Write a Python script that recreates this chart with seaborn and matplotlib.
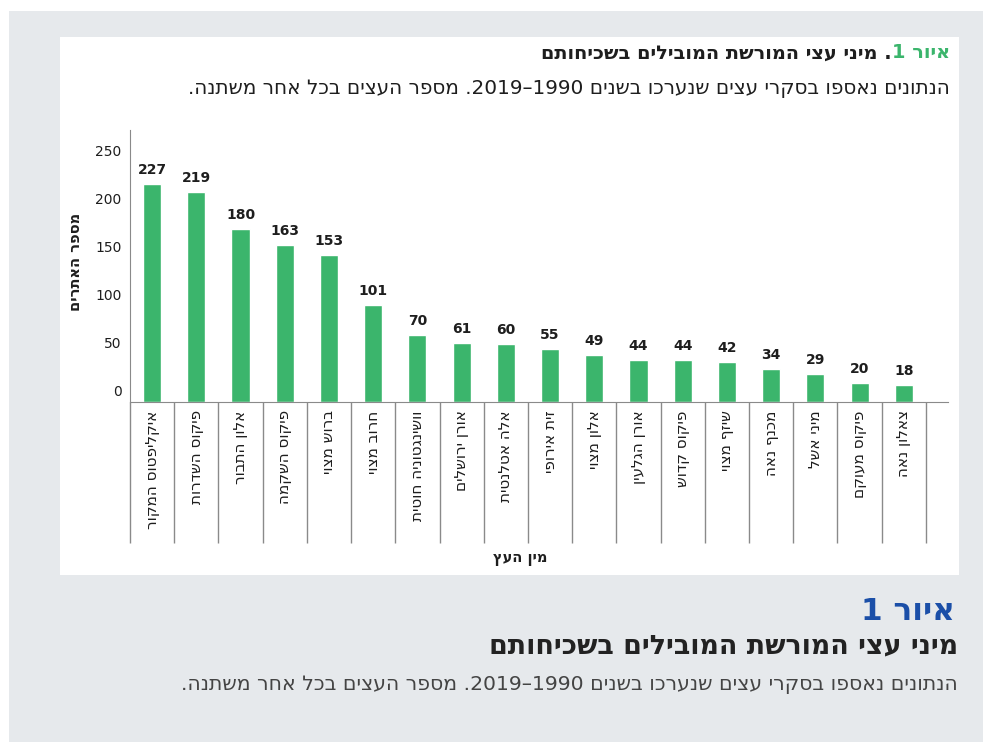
import re
import numpy as np
import pandas as pd
import seaborn as sns
import matplotlib.pyplot as plt
from matplotlib.patches import Rectangle

# data (logical Hebrew order)
species = ["איקליפטוס המקור", "פיקוס השדרות", "אלון התבור", "פיקוס השקמה",
           "ברוש מצוי", "חרוב מצוי", "וושינגטוניה חוטית", "אורן ירושלים",
           "אלה אטלנטית", "זית אירופי", "אלון מצוי", "אורן הגלעין",
           "פיקוס קדוש", "שיזף מצוי", "מכנף נאה", "מיני אשל",
           "פיקוס מעוקם", "צאלון נאה"]
sites = [227, 219, 180, 163, 153, 101, 70, 61, 60, 55, 49, 44, 44, 42, 34, 29, 20, 18]
y_ticks = [0, 50, 100, 150, 200, 250]

title_fig = "איור 1"
title_txt = "מיני עצי המורשת המובילים בשכיחותם"
subtitle = "הנתונים נאספו בסקרי עצים שנערכו בשנים 1990–2019. מספר העצים בכל אחר משתנה."
y_label = "מספר האתרים"
x_label = "מין העץ"


def heb(s):
    # crude visual reordering for right-to-left text
    r = s[::-1]
    return re.sub(r"\d+", lambda m: m.group(0)[::-1], r)


W, H = 988, 742


def px(x, y):
    return x / W, 1 - y / H


def fit(t, width):
    # scale a text so that it spans the given pixel width
    w = t.get_window_extent(renderer).width
    t.set_fontsize(t.get_fontsize() * width / w)


sns.set_style("white")
plt.rcParams["font.family"] = ["DejaVu Sans"]

GREEN = "#3bb56c"
DARK = "#1e1e1e"
GRID = "#8a8a8a"

fig = plt.figure(figsize=(W / 100, H / 100), dpi=100, facecolor="white")
renderer = fig.canvas.get_renderer()
fig.add_artist(Rectangle(px(9, 742), 974 / W, 731 / H, transform=fig.transFigure,
                         facecolor="#e6e9ec", edgecolor="none", zorder=-2))
fig.add_artist(Rectangle(px(60, 575), 899 / W, 538 / H, transform=fig.transFigure,
                         facecolor="white", edgecolor="none", zorder=-1))

left, bottom = px(130, 402)
right, top = px(948, 130)
ax = fig.add_axes([left, bottom, right - left, top - bottom])
ax.set_facecolor("none")

df = pd.DataFrame({"species": [heb(s) for s in species], "sites": sites})
sns.barplot(data=df, x="species", y="sites", color=GREEN, width=0.41,
            saturation=1, ax=ax)

ax.set_xlim(-0.5, 18.0)
ax.set_ylim(0, 283)
ax.set_xlabel("")
ax.set_ylabel("")

# value labels
ax.bar_label(ax.containers[0], labels=[str(v) for v in sites], padding=5,
             fontsize=10, color=DARK, fontweight="semibold")

# spines
for s in ["top", "right"]:
    ax.spines[s].set_visible(False)
ax.spines["left"].set_color(GRID)
ax.spines["bottom"].set_color(GRID)
ax.spines["bottom"].set_bounds(-0.5, 18.0)

# y ticks: long lines with labels sitting above them
ax.set_yticks(y_ticks)
ax.set_yticklabels([])
ax.tick_params(axis="y", direction="out", length=27.5, width=1, color=GRID)
for t in y_ticks:
    ax.annotate(str(t), xy=(0, t), xycoords=("axes fraction", "data"),
                xytext=(-6, 2), textcoords="offset points", ha="right", va="bottom",
                fontsize=10, color=DARK)

# x tick labels, vertical
ax.tick_params(axis="x", length=0, pad=6)
plt.setp(ax.get_xticklabels(), rotation=90, va="top", ha="center", fontsize=11, color=DARK)

# separators below the axis
low = -(543 - 402) / 0.96
ax.vlines(np.arange(-0.5, 18), low, 0, colors=GRID, linewidth=1, clip_on=False)

fig.text(*px(75, 262), heb(y_label), rotation=90, ha="center", va="center",
         fontsize=10.5, fontweight="bold", color=DARK)
fig.text(*px(520, 559), heb(x_label), ha="center", va="center",
         fontsize=10.5, fontweight="bold", color=DARK)

# inner title: green figure number on the right, rest to its left
g = fig.text(*px(950, 53), heb(title_fig), ha="right", va="center",
             fontsize=11, fontweight="bold", color=GREEN)
t1 = fig.text(0, 1 - 53 / H, heb(title_txt) + " .", ha="right", va="center",
              fontsize=11, fontweight="bold", color=DARK)
total = g.get_window_extent(renderer).width + t1.get_window_extent(renderer).width
scale = 407 / total
g.set_fontsize(11 * scale)
t1.set_fontsize(11 * scale)
t1.set_x(g.get_window_extent(renderer).x0 / W)

t2 = fig.text(*px(950, 88), heb(subtitle), ha="right", va="center",
              fontsize=11.5, color=DARK)
fit(t2, 765)

# outer caption
c1 = fig.text(*px(955, 612), heb(title_fig), ha="right", va="center",
              fontsize=18, fontweight="bold", color="#1b4fa8")
fit(c1, 94)
c2 = fig.text(*px(958, 646), heb(title_txt), ha="right", va="center",
              fontsize=16, fontweight="bold", color="#222222")
fit(c2, 470)
c3 = fig.text(*px(958, 684), heb(subtitle), ha="right", va="center",
              fontsize=13, color="#444444")
fit(c3, 775)

plt.savefig("out.png", dpi=100)
